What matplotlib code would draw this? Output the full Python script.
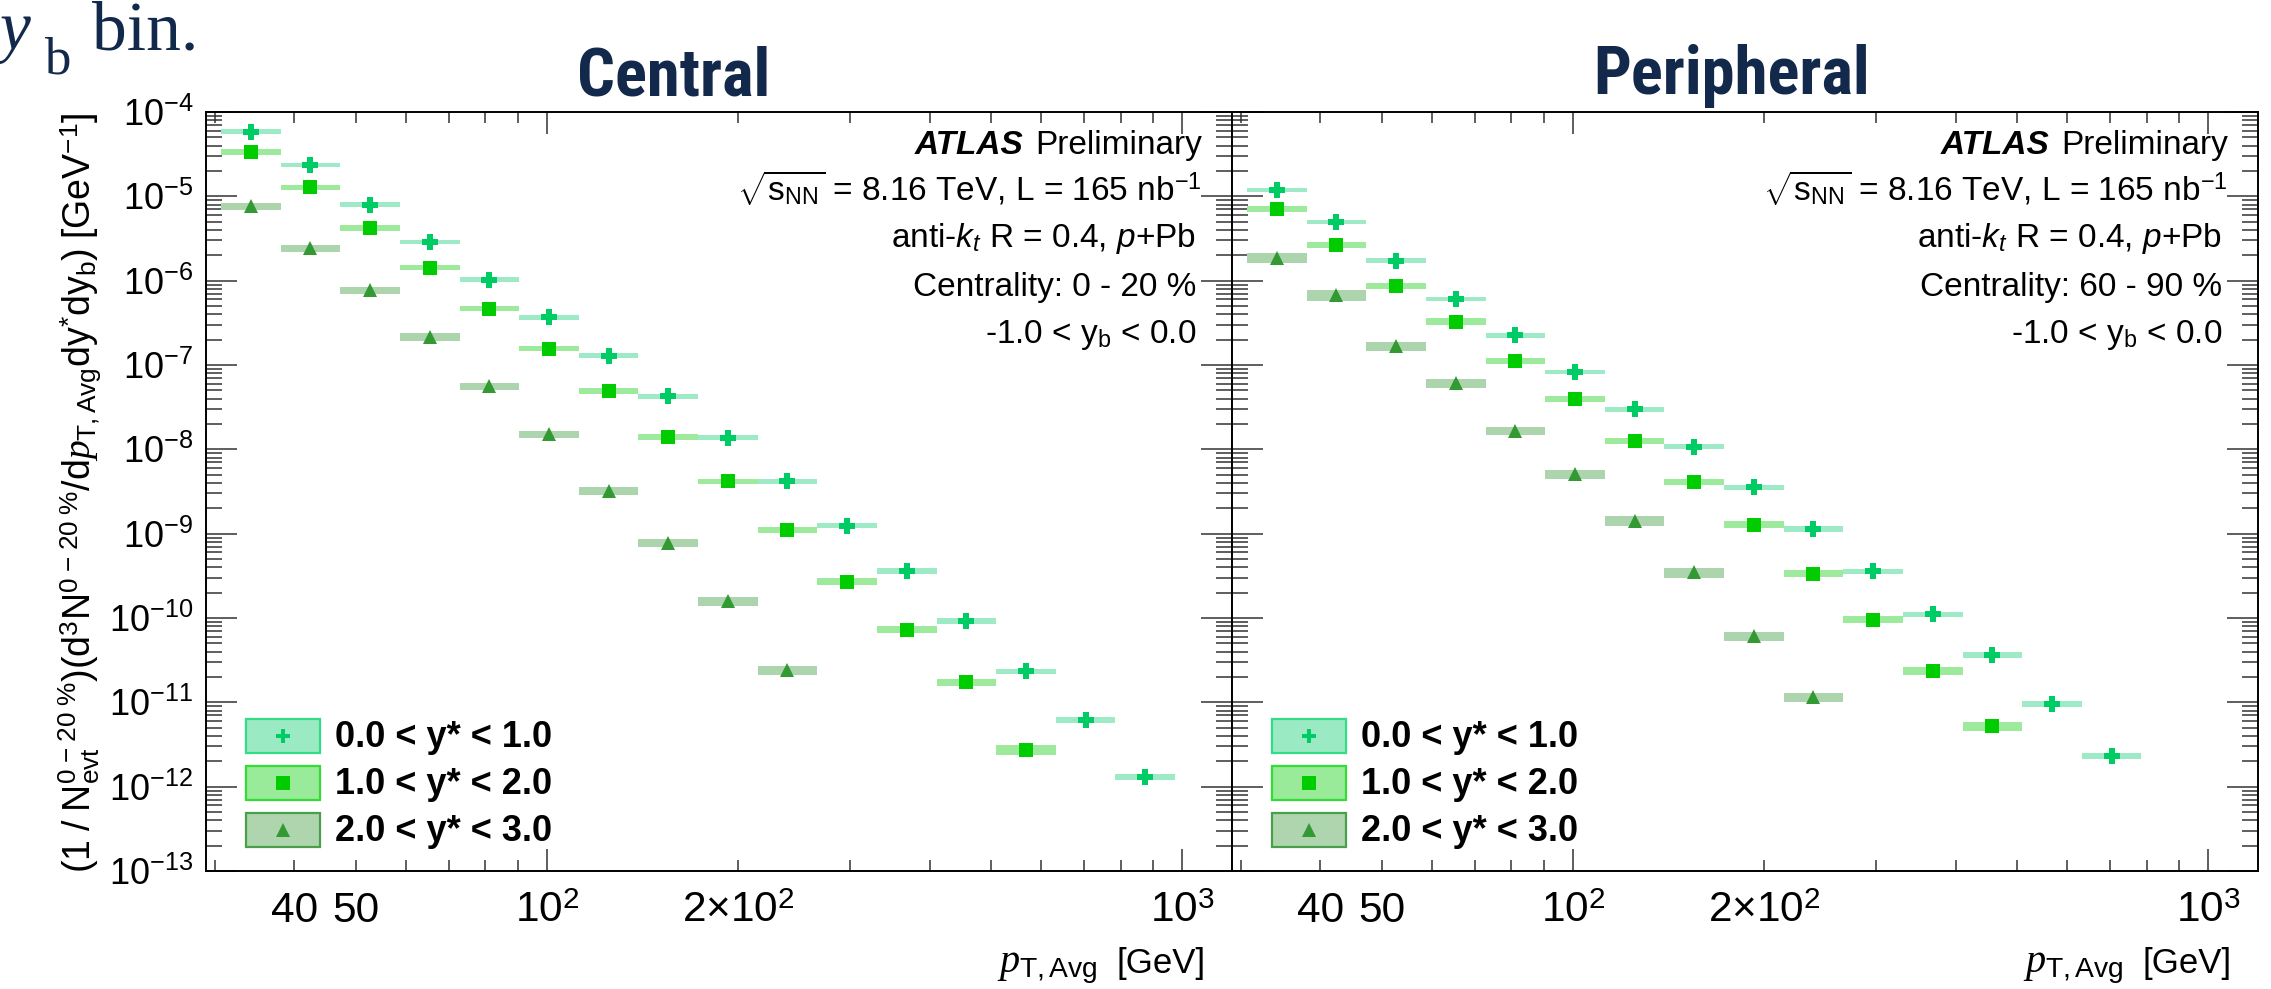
import numpy as np
import matplotlib
matplotlib.use('Agg')
import matplotlib.pyplot as plt
from matplotlib import font_manager
from matplotlib.patches import Rectangle
from matplotlib.ticker import FixedLocator, FixedFormatter, LogLocator, NullFormatter, LogFormatterSciNotation

# ---------------- data ----------------
pt_edges = [30.7, 38.1, 47.3, 58.7, 72.9, 90.4, 112.2, 139.3, 172.9, 214.6,
            266.3, 330.6, 410.3, 509.3, 632.1, 784.6, 973.8]

series_labels = ['0.0 < y* < 1.0', '1.0 < y* < 2.0', '2.0 < y* < 3.0']

central_y0 = [5.84e-5, 2.36e-5, 7.98e-6, 2.88e-6, 1.03e-6, 3.66e-7, 1.29e-7, 4.24e-8,
              1.38e-8, 4.17e-9, 1.24e-9, 3.6e-10, 9.2e-11, 2.33e-11, 6.25e-12, 1.31e-12]
central_y1 = [3.36e-5, 1.29e-5, 4.22e-6, 1.42e-6, 4.64e-7, 1.56e-7, 4.95e-8, 1.41e-8,
              4.17e-9, 1.12e-9, 2.70e-10, 7.3e-11, 1.72e-11, 2.73e-12]
central_y2 = [7.62e-6, 2.44e-6, 7.69e-7, 2.16e-7, 5.61e-8, 1.50e-8, 3.23e-9, 7.75e-10,
              1.59e-10, 2.40e-11]

central_sys0 = [0.065, 0.065, 0.065, 0.065, 0.065, 0.065, 0.065, 0.07, 0.07, 0.07,
                0.07, 0.08, 0.08, 0.08, 0.08, 0.09]
central_sys1 = [0.07, 0.07, 0.07, 0.07, 0.07, 0.07, 0.075, 0.075, 0.08, 0.08,
                0.09, 0.09, 0.10, 0.13]
central_sys2 = [0.10, 0.10, 0.10, 0.10, 0.10, 0.10, 0.12, 0.11, 0.12, 0.13]

periph_y0 = [1.18e-5, 5.01e-6, 1.73e-6, 6.08e-7, 2.25e-7, 8.22e-8, 2.99e-8, 1.08e-8,
             3.56e-9, 1.14e-9, 3.61e-10, 1.11e-10, 3.64e-11, 9.5e-12, 2.30e-12]
periph_y1 = [7.08e-6, 2.65e-6, 8.67e-7, 3.27e-7, 1.12e-7, 3.97e-8, 1.26e-8, 4.13e-9,
             1.28e-9, 3.36e-10, 9.58e-11, 2.38e-11, 5.25e-12]
periph_y2 = [1.88e-6, 6.79e-7, 1.67e-7, 6.08e-8, 1.66e-8, 5.05e-9, 1.43e-9, 3.48e-10,
             6.12e-11, 1.16e-11]

periph_sys0 = [0.055, 0.06, 0.06, 0.06, 0.06, 0.06, 0.065, 0.065, 0.07, 0.07,
               0.07, 0.075, 0.075, 0.08, 0.08]
periph_sys1 = [0.09, 0.09, 0.09, 0.09, 0.09, 0.09, 0.09, 0.09, 0.09, 0.10,
               0.10, 0.11, 0.12]
periph_sys2 = [0.14, 0.15, 0.12, 0.12, 0.12, 0.13, 0.13, 0.14, 0.13, 0.12]

x_major_ticks = [100, 1000]
x_major_labels = ['$10^{2}$', '$10^{3}$']
x_minor_ticks = [30, 40, 50, 60, 70, 80, 90, 200, 300, 400, 500, 600, 700, 800, 900]
x_minor_labels = ['', '40', '50', '', '', '', '', r'$2{\times}10^{2}$', '', '', '', '', '', '', '']

# ---------------- fonts ----------------
names = {f.name for f in font_manager.fontManager.ttflist}
def pick(*cands):
    for c in cands:
        if c in names:
            return c
    return 'DejaVu Sans'

SANS = pick('Liberation Sans', 'Arial', 'DejaVu Sans')
SERIF = pick('Liberation Serif', 'DejaVu Serif')
NARROW = pick('Liberation Sans Narrow', 'Roboto Condensed', 'Open Sans Condensed', 'DejaVu Sans')

plt.rcParams['font.family'] = [SANS, 'DejaVu Sans']
plt.rcParams['mathtext.fontset'] = 'custom'
plt.rcParams['mathtext.rm'] = SANS
plt.rcParams['mathtext.it'] = SERIF + ':italic'
plt.rcParams['mathtext.bf'] = SANS + ':bold'
plt.rcParams['mathtext.sf'] = SANS + ':italic'

NAVY = '#13294b'
marker_colors = ['#00cc66', '#00cc00', '#339933']
band_colors = ['#9feac6', '#9dea9d', '#add5ad']
box_edges = ['#33dd88', '#33dd33', '#4aa04a']
box_fills = ['#9ceac4', '#99ea99', '#aed5ae']
markers = ['P', 's', '^']
msizes = [11, 10.5, 10.5]

W, H = 2271, 989
fig = plt.figure(figsize=(W / 100, H / 100), dpi=100)

ax_l = fig.add_axes([206 / W, 1 - 871 / H, 1026 / W, 759 / H])
ax_r = fig.add_axes([1232 / W, 1 - 871 / H, 1026 / W, 759 / H])

def draw_panel(ax, ys, syss, centrality, show_ylabels):
    edges = np.array(pt_edges)
    for k, (vals, sys) in enumerate(zip(ys, syss)):
        n = len(vals)
        lo = edges[:n]
        hi = edges[1:n + 1]
        v = np.array(vals)
        s = np.array(sys)
        ax.bar(lo, v * 2 * s, width=hi - lo, bottom=v * (1 - s), align='edge',
               color=band_colors[k], linewidth=0, zorder=2)
    for k, vals in enumerate(ys):
        n = len(vals)
        lo = edges[:n]
        hi = edges[1:n + 1]
        ctr = np.sqrt(lo * hi)
        ax.plot(ctr, vals, ls='none', marker=markers[k], color=marker_colors[k],
                ms=msizes[k], mew=0, zorder=3)

    ax.set_xscale('log')
    ax.set_yscale('log')
    ax.set_xlim(29.07, 1197)
    ax.set_ylim(1e-13, 1e-4)

    ax.xaxis.set_major_locator(FixedLocator(x_major_ticks))
    ax.xaxis.set_major_formatter(FixedFormatter(x_major_labels))
    ax.xaxis.set_minor_locator(FixedLocator(x_minor_ticks))
    ax.xaxis.set_minor_formatter(FixedFormatter(x_minor_labels))
    ax.yaxis.set_major_locator(LogLocator(base=10, numticks=30))
    ax.yaxis.set_major_formatter(LogFormatterSciNotation())
    ax.yaxis.set_minor_locator(LogLocator(base=10, subs=np.arange(2, 10), numticks=200))
    ax.yaxis.set_minor_formatter(NullFormatter())

    ax.tick_params(which='both', direction='in', top=True, right=True, width=1.1, color='#333333')
    ax.tick_params(axis='x', which='major', length=16, labelsize=30.5, pad=36.5)
    ax.tick_params(axis='x', which='minor', length=8, labelsize=30.5, pad=36.5)
    ax.tick_params(axis='y', which='major', length=22, labelsize=26, pad=9)
    ax.tick_params(axis='y', which='minor', length=11.5)
    if not show_ylabels:
        ax.tick_params(axis='y', which='both', labelleft=False)
    for lab in ax.get_xticklabels(which='both'):
        lab.set_verticalalignment('baseline')
    for sp in ax.spines.values():
        sp.set_linewidth(1.4)

    # legend
    rows_box = [(0.1559, 0.1999), (0.0935, 0.1379), (0.0320, 0.0760)]
    rows_txt = [0.1638, 0.1019, 0.0400]
    for k in range(3):
        b0, b1 = rows_box[k]
        ax.add_patch(Rectangle((0.0390, b0), 0.0721, b1 - b0, transform=ax.transAxes,
                               facecolor=box_fills[k], edgecolor=box_edges[k], lw=1.6, zorder=4))
        ax.plot([0.0750], [(b0 + b1) / 2], transform=ax.transAxes, ls='none',
                marker=markers[k], color=marker_colors[k], ms=msizes[k] - 0.5, mew=0, zorder=5)
        ax.text(0.1257, rows_txt[k], series_labels[k], transform=ax.transAxes,
                ha='left', va='baseline', fontsize=26, fontweight='bold', zorder=5)

    # annotations
    fs = 24
    xr1 = 1 - 30 / 1026
    xr2 = 1 - 36 / 1026
    t = ax.text(xr1, 0.9447, 'Preliminary', transform=ax.transAxes, ha='right',
                va='baseline', fontsize=fs)
    r = fig.canvas.get_renderer()
    bb = t.get_window_extent(renderer=r)
    x_atlas = ax.transAxes.inverted().transform((bb.x0 - 12, 0))[0]
    ax.text(x_atlas, 0.9447, 'ATLAS', transform=ax.transAxes, ha='right', va='baseline',
            fontsize=fs, fontweight='bold', fontstyle='italic')
    ax.text(xr1, 0.8841, r'$\sqrt{\mathrm{s}_{\mathrm{NN}}}$ = 8.16 TeV, L = 165 nb$^{-1}$',
            transform=ax.transAxes, ha='right', va='baseline', fontsize=fs)
    ax.text(xr2, 0.8225, r'anti-$\mathsf{k}_{\mathsf{t}}$ R = 0.4, $\mathsf{p}$+Pb',
            transform=ax.transAxes, ha='right', va='baseline', fontsize=fs)
    ax.text(xr2, 0.7576, centrality, transform=ax.transAxes, ha='right', va='baseline', fontsize=fs)
    ax.text(xr2, 0.6957, r'-1.0 < $\mathrm{y}_{\mathrm{b}}$ < 0.0', transform=ax.transAxes,
            ha='right', va='baseline', fontsize=fs)

    # x axis title
    ax.text(0.8684, -0.1344, r'$p_{\mathrm{T,Avg}}$', transform=ax.transAxes, ha='right',
            va='baseline', fontsize=29)
    ax.text(1 - 26 / 1026, -0.1344, '[GeV]', transform=ax.transAxes, ha='right',
            va='baseline', fontsize=25)

draw_panel(ax_l, [central_y0, central_y1, central_y2],
           [central_sys0, central_sys1, central_sys2], 'Centrality: 0 - 20 %', True)
draw_panel(ax_r, [periph_y0, periph_y1, periph_y2],
           [periph_sys0, periph_sys1, periph_sys2], 'Centrality: 60 - 90 %', False)

# y axis title
ylab = (r'$(1\ /\ \mathrm{N}^{0\ \mathrm{-}\ 20\ \%}_{\mathrm{evt}})'
        r'(\mathrm{d}^{3}\mathrm{N}^{0\ \mathrm{-}\ 20\ \%}/\mathrm{d}p_{\mathrm{T,Avg}}'
        r'\mathrm{dy}^{*}\mathrm{dy}_{\mathrm{b}})\ [\mathrm{GeV}^{-1}]$')
fig.text(80 / W, 1 - 113 / H, ylab, rotation=90, ha='center', va='top', fontsize=27)

# panel titles
tkw = dict(fontweight='bold', color=NAVY, ha='center', va='baseline', fontsize=48)
if NARROW == 'DejaVu Sans':
    tkw['fontstretch'] = 'condensed'
fig.text(674 / W, 1 - 95 / H, 'Central', fontfamily=NARROW, **tkw)
fig.text(1732 / W, 1 - 94 / H, 'Peripheral', fontfamily=NARROW, **tkw)

# cropped slide text at top-left
fig.text(0 / W, 1 - 49 / H, 'y', fontfamily=SERIF, fontstyle='italic', fontsize=50,
         color=NAVY, ha='left', va='baseline')
fig.text(44 / W, 1 - 74 / H, 'b', fontfamily=SERIF, fontsize=38, color=NAVY,
         ha='left', va='baseline')
fig.text(92 / W, 1 - 49 / H, 'bin.', fontfamily=SERIF, fontsize=50, color=NAVY,
         ha='left', va='baseline')

fig.savefig('out.png', dpi=100)
